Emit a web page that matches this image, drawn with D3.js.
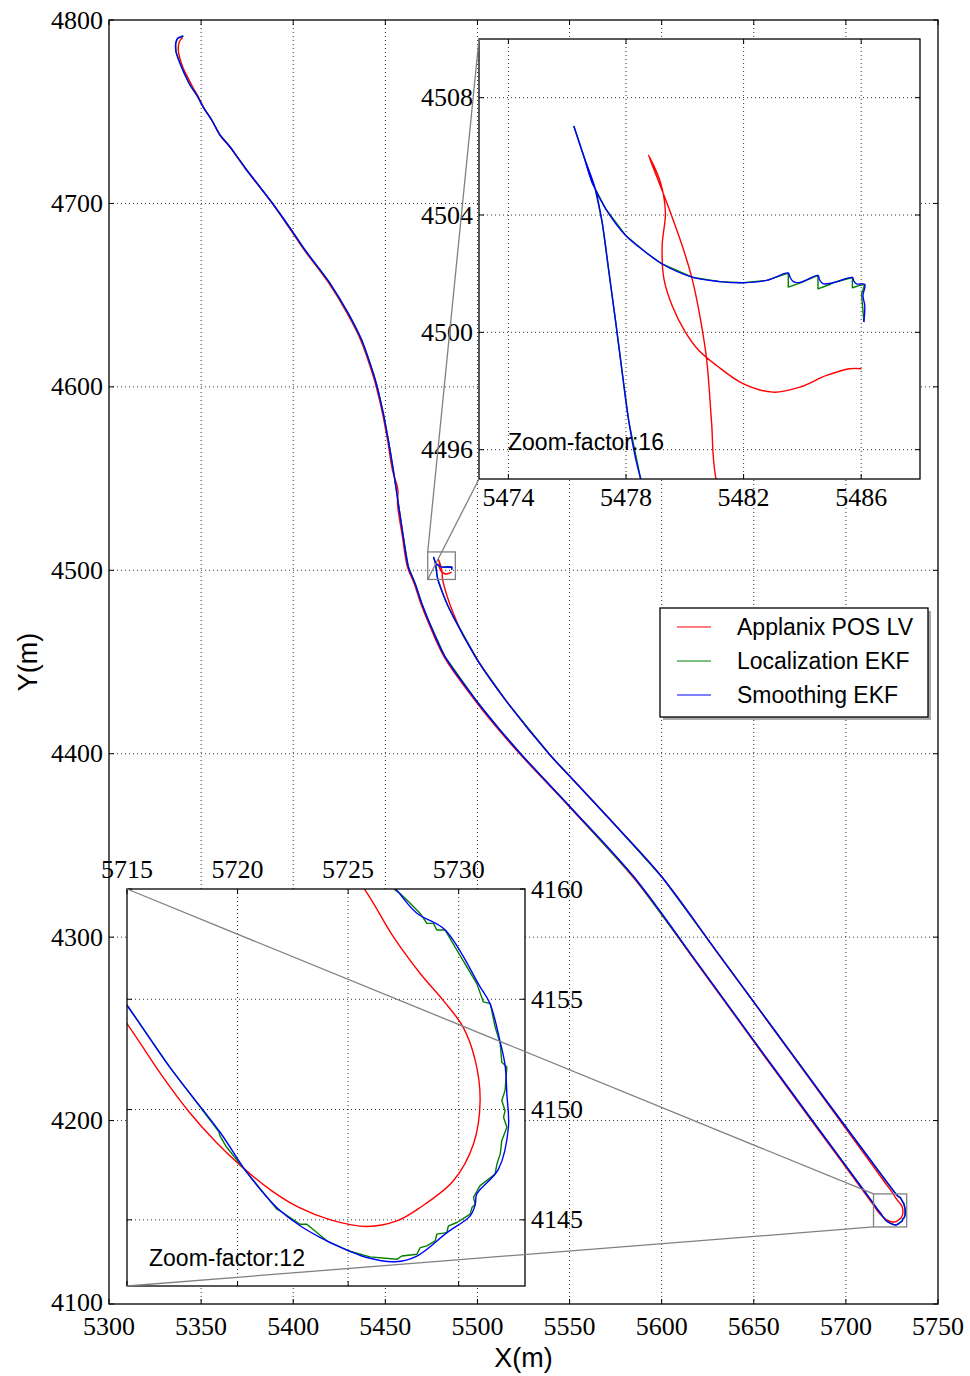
<!DOCTYPE html>
<html><head><meta charset="utf-8">
<script src="https://cdn.jsdelivr.net/npm/d3@7"></script>
<style>body{margin:0;background:#fff}svg{display:block}</style>
</head><body>
<svg id="chart" width="970" height="1376"></svg>
<script>
// ---------------- DATA ----------------
const seriesNames = ["Applanix POS LV", "Localization EKF", "Smoothing EKF"];

const mainXTicks = [5300,5350,5400,5450,5500,5550,5600,5650,5700,5750];
const mainYTicks = [4100,4200,4300,4400,4500,4600,4700,4800];
const inset1XTicks = [5474,5478,5482,5486];
const inset1YTicks = [4496,4500,4504,4508];
const inset2XTicks = [5715,5720,5725,5730];
const inset2YTicks = [4145,4150,4155,4160];
const mainXDomain = [5300,5750], mainYDomain = [4100,4800];
const inset1XDomain = [5473,5488], inset1YDomain = [4495,4510];
const inset2XDomain = [5715,5733], inset2YDomain = [4142,4160];
const inset1Label = "Zoom-factor:16";
const inset2Label = "Zoom-factor:12";

// Applanix POS LV (reference)
const applanixPath = [
[5340.0,4790.6],[5338.2,4788.2],[5337.6,4783.6],[5338.5,4779.1],[5340.3,4773.7],[5343.0,4768.2],[5345.8,4762.8],
[5348.2,4758.6],[5351.6,4752.0],[5356.0,4745.0],[5360.4,4737.0],[5365.7,4730.6],[5370.2,4724.4],[5374.3,4718.6],
[5389.0,4699.5],[5398.1,4686.3],[5406.2,4674.3],[5419.6,4656.1],[5429.4,4639.9],[5436.7,4625.3],[5443.0,4607.2],
[5445.2,4599.5],[5448.5,4585.4],[5451.2,4570.9],[5453.9,4554.5],[5456.8,4544.0],[5456.6,4536.4],[5459.3,4518.2],
[5462.0,4501.8],[5465.7,4492.7],[5469.3,4481.8],[5472.9,4472.7],[5482.0,4452.6],[5500.2,4427.1],[5512.0,4412.5],
[5524.8,4397.9],[5550.1,4370.8],[5585.2,4331.8],[5620.0,4284.5],[5650.0,4243.0],[5680.0,4201.8],[5700.0,4174.5],
[5710.0,4160.8],
[5715.0,4153.9],[5716.5,4151.65],[5717.8,4149.9],[5719.0,4148.55],[5720.2,4147.4],[5721.5,4146.35],
[5722.8,4145.55],[5724.2,4145.0],[5725.85,4144.7],[5727.2,4144.95],[5728.26,4145.56],[5729.76,4146.77],
[5730.67,4148.44],[5730.97,4150.4],[5730.75,4152.23],[5730.2,4153.74],[5729.3,4154.95],[5728.26,4156.17],
[5727.05,4157.83],[5725.77,4159.95],
[5721.0,4166.5],[5712.0,4179.0],[5695.0,4202.5],[5660.0,4250.7],[5630.0,4291.8],[5600.0,4332.9],[5575.6,4360.2],
[5552.0,4385.7],[5539.4,4399.3],[5515.9,4428.4],[5500.5,4450.5],[5496.0,4458.3],[5492.0,4465.0],[5486.9,4476.6],
[5483.5,4486.0],[5481.06,4495.0],
[5480.91,4496.94],[5480.74,4499.10],[5480.51,4500.57],[5480.25,4501.82],[5479.91,4502.96],[5479.51,4504.09],
[5479.12,4505.12],[5478.76,4506.05],
[5479.17,4505.12],[5479.34,4504.09],[5479.23,4502.96],[5479.29,4501.82],[5479.57,4500.91],[5480.02,4500.01],
[5480.48,4499.38],[5481.08,4498.87],[5481.98,4498.25],[5483.0,4497.96],[5483.91,4498.13],[5484.82,4498.53],
[5485.61,4498.76],[5486.01,4498.76]
];

// Localization EKF
const localizationPath = [
[5340.33,4791.28],[5337.29,4790.02],[5336.21,4787.30],[5336.37,4782.72],[5338.54,4776.39],[5341.26,4770.02],
[5343.97,4764.56],[5347.61,4759.11],[5351.19,4752.41],[5355.75,4745.48],[5360.25,4737.31],[5365.68,4730.93],
[5370.19,4724.60],[5374.37,4718.77],[5389.03,4699.69],[5398.25,4686.61],[5406.40,4674.61],[5419.97,4656.46],
[5429.90,4640.10],[5437.18,4625.55],[5443.48,4607.39],[5445.64,4599.76],[5448.90,4585.59],[5451.61,4571.03],
[5454.33,4554.68],[5457.04,4536.52],[5459.75,4518.31],[5462.47,4501.96],[5466.11,4492.91],[5469.74,4482.01],
[5473.33,4472.90],[5482.39,4452.89],[5500.47,4427.49],[5512.25,4412.93],[5524.90,4398.38],[5550.25,4371.12],
[5585.53,4332.09],[5620.0,4285.0],[5650.0,4243.6],[5680.0,4202.5],[5700.0,4175.3],[5710.0,4161.6],
[5715.0,4154.73],[5716.95,4151.9],[5719.15,4149.0],[5719.2,4148.82],[5719.5,4148.3],[5720.42,4147.15],
[5721.77,4145.49],[5721.92,4145.41],[5722.83,4144.80],[5723.13,4144.8],[5724.04,4144.05],[5725.0,4143.6],
[5725.99,4143.32],[5727.2,4143.21],[5727.43,4143.36],[5728.11,4143.44],[5728.26,4143.74],[5728.56,4143.82],
[5728.94,4144.05],[5729.01,4144.35],[5729.46,4144.42],[5729.54,4144.73],[5729.92,4144.88],[5730.52,4145.26],
[5730.60,4145.56],[5730.75,4145.71],[5730.67,4146.02],[5730.97,4146.55],[5731.65,4147.08],[5731.73,4147.53],
[5731.88,4147.98],[5731.95,4148.59],[5732.18,4149.20],[5732.03,4149.65],[5732.10,4149.95],[5731.95,4150.41],
[5732.10,4150.87],[5732.18,4151.93],[5731.95,4152.15],[5731.88,4152.99],[5731.65,4153.74],[5731.43,4154.80],
[5731.12,4154.88],[5730.82,4155.71],[5729.92,4157.23],[5729.39,4158.14],[5729.01,4158.14],[5728.86,4158.44],
[5728.56,4158.44],[5728.26,4158.89],[5727.81,4159.35],[5727.35,4159.80],[5727.13,4159.95],
[5720.0,4169.5],[5710.0,4183.0],[5690.0,4210.0],[5660.0,4251.0],[5630.0,4292.0],[5600.02,4332.96],[5575.60,4360.21],
[5552.04,4385.67],[5539.39,4399.30],[5515.89,4428.36],[5500.47,4450.17],[5486.89,4474.70],[5484.0,4480.5],
[5481.5,4486.5],[5478.5,4495.0],
[5478.10,4496.94],[5477.87,4498.64],[5477.65,4500.35],[5477.42,4502.05],[5477.19,4503.75],[5476.95,4504.9],
[5476.60,4505.9],[5476.23,4507.02],[5476.58,4505.95],[5476.85,4505.1],[5477.31,4504.21],[5477.99,4503.30],
[5478.67,4502.73],[5479.23,4502.33],[5480.25,4501.88],[5481.19,4501.73],[5481.98,4501.69],[5482.78,4501.77],
[5483.52,4502.02],[5483.52,4501.54],[5483.91,4501.68],[5484.53,4501.94],[5484.53,4501.48],[5484.93,4501.63],
[5485.04,4501.69],[5485.70,4501.87],[5485.70,4501.52],[5485.95,4501.60],[5486.12,4501.63],[5486.01,4501.31],
[5486.06,4500.74],[5486.09,4500.35]
];

// Smoothing EKF
const smoothingPath = [
[5340.33,4791.28],[5337.29,4790.02],[5336.21,4787.30],[5336.37,4782.72],[5338.54,4776.39],[5341.26,4770.02],
[5343.97,4764.56],[5347.61,4759.11],[5351.19,4752.41],[5355.75,4745.48],[5360.25,4737.31],[5365.68,4730.93],
[5370.19,4724.60],[5374.37,4718.77],[5389.03,4699.69],[5398.25,4686.61],[5406.40,4674.61],[5419.97,4656.46],
[5429.90,4640.10],[5437.18,4625.55],[5443.48,4607.39],[5445.64,4599.76],[5448.90,4585.59],[5451.61,4571.03],
[5454.33,4554.68],[5457.04,4536.52],[5459.75,4518.31],[5462.47,4501.96],[5466.11,4492.91],[5469.74,4482.01],
[5473.33,4472.90],[5482.39,4452.89],[5500.47,4427.49],[5512.25,4412.93],[5524.90,4398.38],[5550.25,4371.12],
[5585.53,4332.09],[5620.0,4285.0],[5650.0,4243.6],[5680.0,4202.5],[5700.0,4175.3],[5710.0,4161.6],
[5715.0,4154.73],[5716.95,4151.9],[5719.21,4148.97],[5720.42,4147.15],[5721.77,4145.56],[5722.83,4144.73],
[5723.73,4144.2],[5724.19,4143.97],[5725.85,4143.29],[5727.13,4143.1],[5728.11,4143.36],[5729.47,4144.42],
[5730.52,4145.18],[5730.75,4145.7],[5730.82,4146.17],[5731.8,4147.3],[5732.25,4149.2],[5732.18,4150.7],
[5732.1,4152.0],[5731.88,4153.06],[5731.42,4154.8],[5730.97,4155.56],[5729.39,4158.14],[5728.11,4158.9],
[5727.2,4159.95],
[5720.0,4169.5],[5710.0,4183.0],[5690.0,4210.0],[5660.0,4251.0],[5630.0,4292.0],[5600.02,4332.96],[5575.60,4360.21],
[5552.04,4385.67],[5539.39,4399.30],[5515.89,4428.36],[5500.47,4450.17],[5486.89,4474.70],[5484.0,4480.5],
[5481.5,4486.5],[5478.5,4495.0],
[5478.10,4496.94],[5477.87,4498.64],[5477.65,4500.35],[5477.42,4502.05],[5477.19,4503.75],[5476.95,4504.9],
[5476.60,4505.9],[5476.23,4507.02],[5476.58,4505.95],[5476.85,4505.1],[5477.31,4504.21],[5477.99,4503.30],
[5478.67,4502.73],[5479.23,4502.33],[5480.25,4501.88],[5481.19,4501.73],[5481.98,4501.69],[5482.78,4501.77],
[5483.52,4502.02],[5483.58,4501.88],[5483.69,4501.73],[5483.91,4501.70],[5484.53,4501.94],[5484.58,4501.80],
[5484.70,4501.66],[5485.04,4501.69],[5485.70,4501.87],[5485.75,4501.75],[5485.84,4501.65],[5486.12,4501.63],
[5486.06,4501.25],[5486.12,4500.91],[5486.09,4500.35]
];

// ---------------- STYLE ----------------
const colors = ["#ff0000", "#008000", "#0000ff"];
const paths = [applanixPath, localizationPath, smoothingPath];
const curves = [d3.curveCatmullRom.alpha(0.5), d3.curveLinear, d3.curveCatmullRom.alpha(0.5)];
const serif = "'Liberation Serif','Times New Roman',serif";
const sans = "'Liberation Sans',Arial,Helvetica,sans-serif";
const tickFont = 26;

const svg = d3.select("#chart");
const defs = svg.append("defs");

function panel(cfg) {
  const {id, xDomain, yDomain, x0, x1, y0, y1, xTicks, yTicks, white} = cfg;
  const x = d3.scaleLinear().domain(xDomain).range([x0, x1]);
  const y = d3.scaleLinear().domain(yDomain).range([y1, y0]);
  const g = svg.append("g");
  defs.append("clipPath").attr("id", id).append("rect")
    .attr("x", x0).attr("y", y0).attr("width", x1 - x0).attr("height", y1 - y0);
  if (white) g.append("rect").attr("x", x0).attr("y", y0).attr("width", x1 - x0).attr("height", y1 - y0).attr("fill", "#fff");
  const grid = g.append("g").attr("stroke", "#000").attr("stroke-width", 0.8).attr("stroke-dasharray", "1,3");
  xTicks.filter(t => t > xDomain[0] && t < xDomain[1]).forEach(t =>
    grid.append("line").attr("x1", x(t)).attr("x2", x(t)).attr("y1", y0).attr("y2", y1));
  yTicks.filter(t => t > yDomain[0] && t < yDomain[1]).forEach(t =>
    grid.append("line").attr("y1", y(t)).attr("y2", y(t)).attr("x1", x0).attr("x2", x1));
  const lg = g.append("g").attr("clip-path", `url(#${id})`);
  paths.forEach((p, i) => {
    const line = d3.line().x(d => x(d[0])).y(d => y(d[1])).curve(curves[i]);
    lg.append("path").attr("d", line(p)).attr("fill", "none")
      .attr("stroke", colors[i]).attr("stroke-width", 1.4).attr("stroke-linejoin", "round");
  });
  const tk = g.append("g").attr("stroke", "#000").attr("stroke-width", 1);
  const L = 5;
  xTicks.forEach(t => {
    tk.append("line").attr("x1", x(t)).attr("x2", x(t)).attr("y1", y1).attr("y2", y1 - L);
    tk.append("line").attr("x1", x(t)).attr("x2", x(t)).attr("y1", y0).attr("y2", y0 + L);
  });
  yTicks.forEach(t => {
    tk.append("line").attr("y1", y(t)).attr("y2", y(t)).attr("x1", x0).attr("x2", x0 + L);
    tk.append("line").attr("y1", y(t)).attr("y2", y(t)).attr("x1", x1).attr("x2", x1 - L);
  });
  g.append("rect").attr("x", x0).attr("y", y0).attr("width", x1 - x0).attr("height", y1 - y0)
    .attr("fill", "none").attr("stroke", "#000").attr("stroke-width", 1.3);
  return {x, y, g};
}

// ---------------- MAIN ----------------
const main = panel({id: "clipMain", xDomain: mainXDomain, yDomain: mainYDomain,
  x0: 109, x1: 938, y0: 20, y1: 1304, xTicks: mainXTicks, yTicks: mainYTicks});
mainXTicks.forEach(t => svg.append("text").attr("x", main.x(t)).attr("y", 1335)
  .attr("text-anchor", "middle").attr("font-family", serif).attr("font-size", tickFont).text(t));
mainYTicks.forEach(t => svg.append("text").attr("x", 103).attr("y", main.y(t) - (t === 4100 ? 2 : 0))
  .attr("text-anchor", "end").attr("dominant-baseline", "central").attr("font-family", serif).attr("font-size", tickFont).text(t));
svg.append("text").attr("x", 523.5).attr("y", 1367).attr("text-anchor", "middle")
  .attr("font-family", sans).attr("font-size", 27).text("X(m)");
svg.append("text").attr("transform", "translate(37,662) rotate(-90)").attr("text-anchor", "middle")
  .attr("font-family", sans).attr("font-size", 27).text("Y(m)");

function zoomBox(xd, yd) {
  const bx0 = main.x(xd[0]), bx1 = main.x(xd[1]), by0 = main.y(yd[1]), by1 = main.y(yd[0]);
  svg.append("rect").attr("x", bx0).attr("y", by0).attr("width", bx1 - bx0).attr("height", by1 - by0)
    .attr("fill", "none").attr("stroke", "#808080").attr("stroke-width", 1.3);
  return {bx0, bx1, by0, by1};
}
const box1 = zoomBox(inset1XDomain, inset1YDomain);
const box2 = zoomBox(inset2XDomain, inset2YDomain);

// ---------------- INSET 1 ----------------
const in1 = panel({id: "clipIn1", xDomain: inset1XDomain, yDomain: inset1YDomain,
  x0: 479, x1: 920, y0: 39, y1: 479, xTicks: inset1XTicks, yTicks: inset1YTicks, white: true});
inset1XTicks.forEach(t => svg.append("text").attr("x", in1.x(t)).attr("y", 506)
  .attr("text-anchor", "middle").attr("font-family", serif).attr("font-size", tickFont).text(t));
inset1YTicks.forEach(t => svg.append("text").attr("x", 473).attr("y", in1.y(t))
  .attr("text-anchor", "end").attr("dominant-baseline", "central").attr("font-family", serif).attr("font-size", tickFont).text(t));
svg.append("text").attr("x", 508).attr("y", 450).attr("font-family", sans).attr("font-size", 23).text(inset1Label);

// ---------------- INSET 2 ----------------
const in2 = panel({id: "clipIn2", xDomain: inset2XDomain, yDomain: inset2YDomain,
  x0: 127, x1: 525, y0: 889, y1: 1286, xTicks: inset2XTicks, yTicks: inset2YTicks, white: true});
inset2XTicks.forEach(t => svg.append("text").attr("x", in2.x(t)).attr("y", 878)
  .attr("text-anchor", "middle").attr("font-family", serif).attr("font-size", tickFont).text(t));
inset2YTicks.forEach(t => svg.append("text").attr("x", 531).attr("y", in2.y(t))
  .attr("text-anchor", "start").attr("dominant-baseline", "central").attr("font-family", serif).attr("font-size", tickFont).text(t));
svg.append("text").attr("x", 149).attr("y", 1266).attr("font-family", sans).attr("font-size", 23).text(inset2Label);

// connectors (upper-left & lower-left corners)
const conn = svg.append("g").attr("stroke", "#808080").attr("stroke-width", 1.3);
conn.append("line").attr("x1", in1.x(inset1XDomain[0])).attr("y1", in1.y(inset1YDomain[1])).attr("x2", box1.bx0).attr("y2", box1.by0);
conn.append("line").attr("x1", in1.x(inset1XDomain[0])).attr("y1", in1.y(inset1YDomain[0])).attr("x2", box1.bx0).attr("y2", box1.by1);
conn.append("line").attr("x1", in2.x(inset2XDomain[0])).attr("y1", in2.y(inset2YDomain[1])).attr("x2", box2.bx0).attr("y2", box2.by0);
conn.append("line").attr("x1", in2.x(inset2XDomain[0])).attr("y1", in2.y(inset2YDomain[0])).attr("x2", box2.bx0).attr("y2", box2.by1);

// ---------------- LEGEND ----------------
const lgX = 660, lgY = 608, lgW = 268, lgH = 109;
svg.append("rect").attr("x", lgX + 3).attr("y", lgY + 3).attr("width", lgW).attr("height", lgH).attr("fill", "#aaaaaa");
svg.append("rect").attr("x", lgX).attr("y", lgY).attr("width", lgW).attr("height", lgH)
  .attr("fill", "#fff").attr("stroke", "#000").attr("stroke-width", 1.3);
seriesNames.forEach((n, i) => {
  const yy = 627 + i * 34;
  svg.append("line").attr("x1", 677).attr("x2", 711).attr("y1", yy).attr("y2", yy)
    .attr("stroke", colors[i]).attr("stroke-width", 1.2);
  svg.append("text").attr("x", 737).attr("y", yy + 8).attr("font-family", sans).attr("font-size", 23).text(n);
});
</script>
</body></html>
